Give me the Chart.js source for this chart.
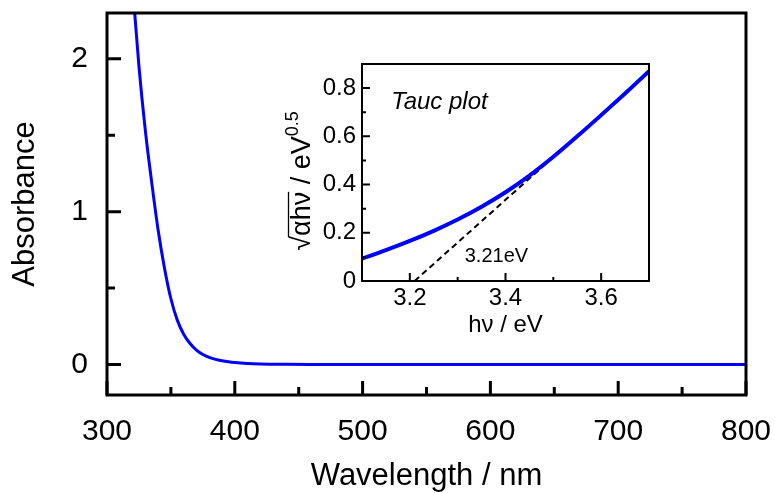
<!DOCTYPE html>
<html>
<head>
<meta charset="utf-8">
<script src="https://cdn.jsdelivr.net/npm/chart.js@4.4.1/dist/chart.umd.min.js"></script>
<style>
  body { margin: 0; background: #fff; }
  #wrap { position: relative; width: 775px; height: 493px; }
  #main { position: absolute; left: 0; top: 0; }
  #inset { position: absolute; left: 270px; top: 50px; }
</style>
</head>
<body>
<div id="wrap">
  <canvas id="main" width="775" height="493"></canvas>
  <canvas id="inset" width="400" height="300"></canvas>
</div>
<script>
// UV-vis spectrum (main plot)
const wavelength = [320, 325, 330, 335, 340, 345, 350, 355, 360, 365, 370, 375, 380, 385, 390, 395, 400, 410, 420, 440, 460, 500, 550, 600, 650, 700, 750, 800];
const absorbance = [2.48, 1.95, 1.53, 1.19, 0.88, 0.63, 0.43, 0.29, 0.198, 0.137, 0.094, 0.065, 0.046, 0.033, 0.024, 0.017, 0.012, 0.006, 0.003, 0.001, 0, 0, 0, 0, 0, 0, 0, 0];
const mainXTicks = [300, 400, 500, 600, 700, 800];
const mainXMinor = [350, 450, 550, 650, 750];
const mainYTicks = [0, 1, 2];
const mainYMinor = [0.5, 1.5];

// Tauc plot (inset)
const photonEnergy = [3.10, 3.15, 3.20, 3.25, 3.30, 3.35, 3.40, 3.45, 3.50, 3.55, 3.60, 3.65, 3.70];
const taucValue = [0.093, 0.128, 0.166, 0.208, 0.255, 0.308, 0.368, 0.437, 0.515, 0.600, 0.688, 0.778, 0.870];
const fitEnergy = [3.21, 3.70];
const fitValue = [0, 0.868];
const insetXTicks = [3.2, 3.4, 3.6];
const insetXMinor = [3.3, 3.5];
const insetYTicks = [0, 0.2, 0.4, 0.6, 0.8];
const insetYMinor = [0.1, 0.3, 0.5, 0.7];

const FONT = '"Liberation Sans", Arial, sans-serif';

// keep the plot box where we put it (no extra room for edge labels)
function noPad(s) {
  s.paddingLeft = 0;
  s.paddingRight = 0;
  s.paddingTop = 0;
  s.paddingBottom = 0;
}

// box around the plot area + inward tick marks
const framePlugin = {
  id: 'frame',
  afterDatasetsDraw(chart, args, o) {
    const {ctx, chartArea: a, scales} = chart;
    ctx.save();
    ctx.strokeStyle = '#000';
    ctx.lineWidth = o.width;
    ctx.beginPath();
    const xt = (vals, len) => vals.forEach(v => {
      const p = scales.x.getPixelForValue(v);
      ctx.moveTo(p, a.bottom);
      ctx.lineTo(p, a.bottom - len);
    });
    const yt = (vals, len) => vals.forEach(v => {
      const p = scales.y.getPixelForValue(v);
      ctx.moveTo(a.left, p);
      ctx.lineTo(a.left + len, p);
    });
    xt(o.xMajor, o.majorLen);
    xt(o.xMinor, o.minorLen);
    yt(o.yMajor, o.majorLen);
    yt(o.yMinor, o.minorLen);
    ctx.stroke();
    ctx.strokeRect(a.left, a.top, a.right - a.left, a.bottom - a.top);
    ctx.restore();
  }
};

// texts of the inset: labels and the y title with root + superscript
const insetText = {
  id: 'insetText',
  afterDraw(chart) {
    const {ctx, scales} = chart;
    ctx.save();
    ctx.fillStyle = '#000';
    ctx.font = 'italic 24px ' + FONT;
    ctx.textAlign = 'left';
    ctx.textBaseline = 'middle';
    ctx.fillText('Tauc plot', scales.x.getPixelForValue(3.161), scales.y.getPixelForValue(0.743));
    ctx.font = '20px ' + FONT;
    ctx.textAlign = 'center';
    ctx.fillText('3.21eV', scales.x.getPixelForValue(3.381), scales.y.getPixelForValue(0.10));

    // y title
    const big = '27px ' + FONT;
    const small = '18px ' + FONT;
    ctx.translate(40, 131);
    ctx.rotate(-Math.PI / 2);
    ctx.textAlign = 'left';
    ctx.textBaseline = 'alphabetic';
    ctx.font = big;
    const wRoot = ctx.measureText('√').width;
    const wUnder = ctx.measureText('αhν').width;
    const wRest = ctx.measureText(' / eV').width;
    ctx.font = small;
    const wSup = ctx.measureText('0.5').width;
    let x = -(wRoot + wUnder + wRest + wSup) / 2;
    ctx.font = big;
    ctx.fillText('√', x, 0);
    x += wRoot;
    ctx.fillText('αhν', x, 0);
    ctx.lineWidth = 1.3;
    ctx.beginPath();
    ctx.moveTo(x - 1, -21.5);
    ctx.lineTo(x + wUnder, -21.5);
    ctx.stroke();
    x += wUnder;
    ctx.fillText(' / eV', x, 0);
    x += wRest;
    ctx.font = small;
    ctx.fillText('0.5', x, -12);
    ctx.restore();
  }
};

new Chart(document.getElementById('main'), {
  type: 'line',
  data: {
    datasets: [{
      data: wavelength.map((w, i) => ({x: w, y: absorbance[i]})),
      borderColor: '#0000ff',
      borderWidth: 3,
      pointRadius: 0,
      cubicInterpolationMode: 'monotone'
    }]
  },
  options: {
    responsive: false,
    animation: false,
    events: [],
    layout: {padding: {left: 0, top: 13, right: 29, bottom: 0}},
    plugins: {
      legend: {display: false},
      tooltip: {enabled: false},
      frame: {width: 3, majorLen: 14, minorLen: 8, xMajor: mainXTicks, xMinor: mainXMinor, yMajor: mainYTicks, yMinor: mainYMinor}
    },
    scales: {
      x: {
        type: 'linear', min: 300, max: 800,
        afterBuildTicks: s => { s.ticks = mainXTicks.map(v => ({value: v})); },
        afterFit: s => { s.height = 98; noPad(s); },
        grid: {display: false, drawTicks: false}, border: {display: false},
        ticks: {padding: 19, color: '#000', font: {family: FONT, size: 30}, maxRotation: 0},
        title: {display: true, text: 'Wavelength / nm', color: '#000', font: {family: FONT, size: 31}, padding: {top: 0, bottom: -2}}
      },
      y: {
        type: 'linear', min: -0.2, max: 2.3,
        afterBuildTicks: s => { s.ticks = mainYTicks.map(v => ({value: v})); },
        afterFit: s => { s.width = 107; noPad(s); },
        grid: {display: false, drawTicks: false}, border: {display: false},
        ticks: {padding: 19, color: '#000', font: {family: FONT, size: 30}, callback: v => String(v)},
        title: {display: true, text: 'Absorbance', color: '#000', font: {family: FONT, size: 31}, padding: {top: 7, bottom: 0}}
      }
    }
  },
  plugins: [framePlugin]
});

new Chart(document.getElementById('inset'), {
  type: 'line',
  data: {
    datasets: [{
      data: photonEnergy.map((e, i) => ({x: e, y: taucValue[i]})),
      borderColor: '#0000ff',
      borderWidth: 4,
      pointRadius: 0,
      cubicInterpolationMode: 'monotone'
    }, {
      data: fitEnergy.map((e, i) => ({x: e, y: fitValue[i]})),
      borderColor: '#000',
      borderWidth: 2,
      borderDash: [6, 4],
      pointRadius: 0
    }]
  },
  options: {
    responsive: false,
    animation: false,
    events: [],
    layout: {padding: {left: 0, top: 14, right: 21, bottom: 0}},
    plugins: {
      legend: {display: false},
      tooltip: {enabled: false},
      frame: {width: 2, majorLen: 8, minorLen: 4, xMajor: insetXTicks, xMinor: insetXMinor, yMajor: insetYTicks, yMinor: insetYMinor}
    },
    scales: {
      x: {
        type: 'linear', min: 3.1, max: 3.7,
        afterBuildTicks: s => { s.ticks = insetXTicks.map(v => ({value: v})); },
        afterFit: s => { s.height = 69; noPad(s); },
        grid: {display: false, drawTicks: false}, border: {display: false},
        ticks: {padding: 3, color: '#000', font: {family: FONT, size: 24}, maxRotation: 0, callback: v => v.toFixed(1)},
        title: {display: true, text: 'hν / eV', color: '#000', font: {family: FONT, size: 24}, padding: {top: 0, bottom: 10}}
      },
      y: {
        type: 'linear', min: 0, max: 0.9,
        afterBuildTicks: s => { s.ticks = insetYTicks.map(v => ({value: v})); },
        afterFit: s => { s.width = 92; noPad(s); },
        grid: {display: false, drawTicks: false}, border: {display: false},
        ticks: {padding: 6, color: '#000', font: {family: FONT, size: 24}, callback: v => v === 0 ? '0' : v.toFixed(1)}
      }
    }
  },
  plugins: [framePlugin, insetText]
});
</script>
</body>
</html>
